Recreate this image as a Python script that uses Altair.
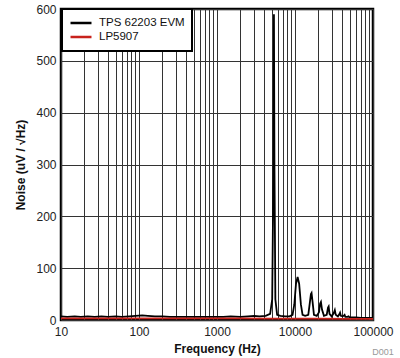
import altair as alt
import pandas as pd

# TPS 62203 EVM (black) noise spectrum
freq_tps = [10, 12, 15, 18, 22, 27, 33, 40, 50, 60, 75, 90, 110, 130, 160, 200, 250, 300,
            400, 500, 700, 900, 1200, 1500, 2000, 2500, 3000, 3500, 4200, 4800,
            5100, 5300, 5370, 5450, 5600, 5900, 6500, 7500, 8500, 9300, 9800, 10300,
            10800, 11300, 11900, 12500, 13500, 14800, 15400, 16000, 16300, 16800, 17500,
            19000, 20300, 21000, 21500, 22200, 23500, 25500, 26500, 27000, 27700, 29500,
            31500, 32400, 33300, 35500, 37000, 37800, 38700, 41000, 42500, 43200, 44200,
            47000, 48600, 50000, 54000, 60000, 70000, 80000, 100000]
noise_tps = [7, 6, 7, 6, 7, 6, 7, 6, 7, 6, 7, 8, 9, 8, 7, 7, 6, 6,
             6, 6, 6, 6, 6, 7, 6, 7, 8, 7, 8, 12,
             40, 300, 590, 300, 40, 10, 8, 7, 7, 10, 30, 70,
             83, 70, 30, 10, 8, 10, 30, 50, 52, 35, 10,
             8, 15, 32, 35, 20, 8, 10, 24, 26, 12, 7,
             14, 19, 10, 7, 11, 14, 8, 7, 9, 10, 6,
             6, 7, 5, 5, 5, 4, 4, 4]

# LP5907 (red) noise spectrum
freq_lp = [10, 15, 20, 30, 50, 70, 100, 200, 500, 1000, 2000, 5000, 10000, 20000, 50000, 100000]
noise_lp = [3, 3, 3, 3, 3, 3, 3, 3, 3, 3, 3, 2.5, 2.5, 2.5, 2, 2]

series_names = ["TPS 62203 EVM", "LP5907"]
series_colors = ["#000000", "#c8221c"]

x_grid_values = [m * 10 ** e for e in range(1, 5) for m in range(1, 10)] + [100000]
x_labels = ["10", "100", "1000", "10000", "100000"]
y_ticks = [0, 100, 200, 300, 400, 500, 600]

df_tps = pd.DataFrame({"f": freq_tps, "n": noise_tps, "s": series_names[0]})
df_lp = pd.DataFrame({"f": freq_lp, "n": noise_lp, "s": series_names[1]})

FONT = "Liberation Sans"

x_enc = alt.X("f:Q", scale=alt.Scale(type="log", domain=[10, 100000], nice=False),
              axis=alt.Axis(values=x_grid_values, format="d",
                            labelExpr="indexof(" + str(x_labels) + ", datum.label) >= 0 ? datum.label : ''",
                            title="Frequency (Hz)", grid=True, ticks=False, domain=False,
                            labelPadding=6, titlePadding=6, labelFlush=False,
                            labelOverlap=False))
y_enc = alt.Y("n:Q", scale=alt.Scale(domain=[0, 600], nice=False),
              axis=alt.Axis(values=y_ticks, title="Noise (uV / √Hz)", grid=True, ticks=False,
                            domain=False, labelPadding=5, titlePadding=8))
color_enc = alt.Color("s:N", scale=alt.Scale(domain=series_names, range=series_colors),
                      legend=alt.Legend(title=None, orient="none", legendX=1, legendY=0,
                                        symbolType="stroke", symbolStrokeWidth=2.5,
                                        symbolSize=440, labelFontSize=11.5, labelFont=FONT,
                                        labelColor="#111", padding=7, rowPadding=0,
                                        clipHeight=14, labelOffset=6,
                                        strokeColor="#000", fillColor="#fff"))

black = alt.Chart(df_tps).mark_line(strokeWidth=1.8, clip=True).encode(x=x_enc, y=y_enc, color=color_enc)
red = alt.Chart(df_lp).mark_line(strokeWidth=1.8, clip=True).encode(x=x_enc, y=y_enc, color=color_enc)
tag = alt.Chart(pd.DataFrame({"t": ["D001"]})).mark_text(
    fontSize=9, font=FONT, color="#999", align="center").encode(
    text="t:N", x=alt.value(322), y=alt.value(343))

chart = alt.layer(black, red, tag).properties(
    width=312, height=311,
    autosize=alt.AutoSizeParams(type="none"),
    padding={"left": 61, "top": 9, "right": 27, "bottom": 38},
).configure_view(stroke="#000", strokeWidth=2.5).configure_axis(
    gridColor="#333", gridWidth=1, gridOpacity=1,
    labelFont=FONT, labelFontSize=12, labelColor="#222",
    titleFont=FONT, titleFontSize=12, titleFontWeight="bold", titleColor="#111",
).configure_legend(strokeWidth=2)

chart.save("out.html", embed_options={"renderer": "svg", "actions": False})
